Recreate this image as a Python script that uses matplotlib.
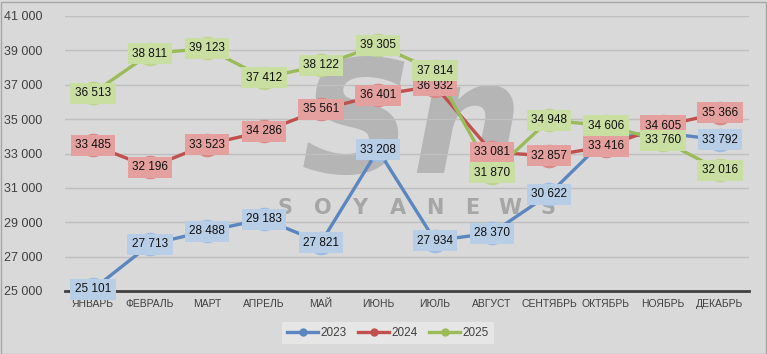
import matplotlib
matplotlib.use("Agg")
import matplotlib.pyplot as plt
from matplotlib.patches import Rectangle

months = ["ЯНВАРЬ", "ФЕВРАЛЬ", "МАРТ", "АПРЕЛЬ", "МАЙ", "ИЮНЬ", "ИЮЛЬ",
          "АВГУСТ", "СЕНТЯБРЬ", "ОКТЯБРЬ", "НОЯБРЬ", "ДЕКАБРЬ"]
v2023 = [25101, 27713, 28488, 29183, 27821, 33208, 27934, 28370, 30622, 33888, 34200, 33792]
v2024 = [33485, 32196, 33523, 34286, 35561, 36401, 36932, 33081, 32857, 33416, 34605, 35366]
v2025 = [36513, 38811, 39123, 37412, 38122, 39305, 37814, 31870, 34948, 34606, 33760, 32016]
yticks = list(range(25000, 41001, 2000))

series = [
    ("2023", v2023, "#5b86c0", "#9fbde3", "#b8cde6"),
    ("2024", v2024, "#c0504d", "#d98a88", "#e3a09e"),
    ("2025", v2025, "#9bbb59", "#bcd48e", "#c9dea1"),
]

plt.rcParams["font.family"] = ["Liberation Sans", "DejaVu Sans"]

fig = plt.figure(figsize=(7.67, 3.54), dpi=100, facecolor="#d9d9d9")
ax = fig.add_axes([64.5 / 767, 63 / 354, 684 / 767, 275 / 354])
ax.patch.set_alpha(0)
x = list(range(len(months)))

# watermark, behind everything in the axes
fig.text(412 / 767, 1 - 130 / 354, "Sn", fontsize=112, style="italic", fontweight="bold",
         color="#b5b5b5", ha="center", va="center", zorder=-2, family="DejaVu Sans")
for i, ch in enumerate("SOYANEWS"):
    fig.text((285 + i * 37.5) / 767, 1 - 208 / 354, ch, fontsize=15, fontweight="bold",
             color="#a6a6a6", ha="center", va="center", zorder=-1, family="DejaVu Sans")

for name, vals, lc, mc, bc in series:
    ax.plot(x, vals, color=lc, lw=2.4, marker="o", ms=16, mfc=mc, mec=mc,
            label=name, zorder=2)

for name, vals, lc, mc, bc in series:
    for xi, v in zip(x, vals):
        s = f"{v:,}".replace(",", " ")
        ax.text(xi, v, s, ha="center", va="center", fontsize=8.5, color="#111111",
                zorder=4, bbox=dict(boxstyle="square,pad=0.38", fc=bc, ec="none"))

ax.set_xlim(-0.5, 11.5)
ax.set_ylim(25000, 41000)
ax.set_yticks(yticks)
ax.set_yticklabels([f"{t:,}".replace(",", " ") for t in yticks])
ax.set_xticks(x)
ax.set_xticklabels(months)
ax.tick_params(axis="y", length=0, pad=16, labelsize=9, labelcolor="#404040")
ax.tick_params(axis="x", length=0, pad=6, labelsize=7.5, labelcolor="#404040")
ax.grid(axis="y", color="#bfbfbf", lw=1)
ax.set_axisbelow(True)
for sp in ["top", "right", "left"]:
    ax.spines[sp].set_visible(False)
ax.spines["bottom"].set_color("#404040")
ax.spines["bottom"].set_linewidth(2)

leg_handles = []
for name, vals, lc, mc, bc in series:
    h, = ax.plot([], [], color=lc, lw=2.4, marker="o", ms=5, mfc=lc, mec=lc)
    leg_handles.append(h)
leg = fig.legend(leg_handles, [s[0] for s in series], loc="center",
                 bbox_to_anchor=(388 / 767, 1 - 333 / 354), ncol=3, frameon=True,
                 fontsize=8.5, handlelength=2.6, handletextpad=0.2, columnspacing=1.0,
                 borderpad=0.45, fancybox=False)
leg.get_frame().set_facecolor("#e6e6e6")
leg.get_frame().set_edgecolor("none")
leg.get_frame().set_alpha(1)
for t in leg.get_texts():
    t.set_color("#404040")

fig.add_artist(Rectangle((0.5 / 767, 0.5 / 354), 765 / 767, 352 / 354,
                         transform=fig.transFigure, fill=False, ec="#a6a6a6", lw=1))

fig.savefig("out.png", dpi=100, facecolor=fig.get_facecolor())
